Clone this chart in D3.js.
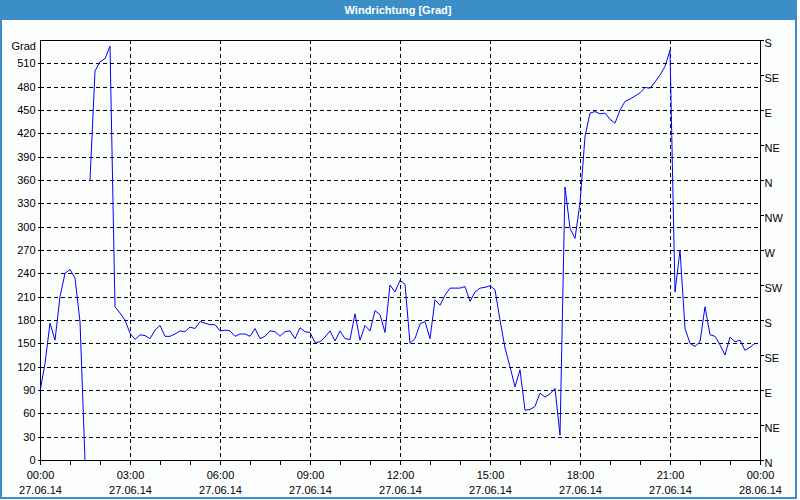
<!DOCTYPE html>
<html><head><meta charset="utf-8">
<script src="https://cdn.jsdelivr.net/npm/d3@7"></script>
<style>
html,body{margin:0;padding:0;background:#fff;}
svg{display:block;}
text{font-family:"Liberation Sans",Arial,sans-serif;font-size:11px;fill:#000;}
</style></head>
<body>
<svg id="chart" width="800" height="500"></svg>
<script>
// ---- data (10-minute samples from 27.06.14 00:00) ----
const title = "Windrichtung [Grad]";
const yUnit = "Grad";
const direction = [
 88,124,176,154,210,240,245,234,178,0,
 360,500,512,516,532,197,189,180,163,155,
 161,160,156,167,173,159,159,162,166,165,
 171,169,178,176,174,174,166,167,166,159,
 162,162,159,169,156,159,166,165,159,165,
 166,156,170,165,164,151,152,158,166,153,
 166,156,155,188,154,173,166,192,187,164,
 225,216,231,226,150,156,175,178,156,206,
 199,212,221,221,221,223,204,216,221,222,
 224,219,180,144,120,94,116,64,65,69,
 86,81,85,92,32,351,298,285,330,416,
 446,448,445,446,438,433,450,461,464,468,
 472,479,478,486,495,506,527,216,270,169,
 150,146,152,197,161,159,148,135,158,152,
 154,141,145,150
];
const segmentStarts = [0, 10];           // line is broken where wrap-around occurs
const sampleMinutes = 10;
const startTime = new Date(2014, 5, 27, 0, 0);
const endTime = new Date(2014, 5, 28, 0, 0);
const yTicks = [0,30,60,90,120,150,180,210,240,270,300,330,360,390,420,450,480,510];
const compassValues = [0,45,90,135,180,225,270,315,360,405,450,495,540];
const compassLabels = ["N","NE","E","SE","S","SW","W","NW","N","NE","E","SE","S"];
const timeLabels = ["00:00","03:00","06:00","09:00","12:00","15:00","18:00","21:00","00:00"];
const dateLabels = ["27.06.14","27.06.14","27.06.14","27.06.14","27.06.14","27.06.14","27.06.14","27.06.14","28.06.14"];

// ---- layout ----
const L = 40, R = 760, T = 40, B = 460;
const svg = d3.select("#chart");

svg.append("rect").attr("x",0).attr("y",0).attr("width",797).attr("height",499).attr("fill","#fcfdfd");
svg.append("rect").attr("x",1).attr("y",1).attr("width",795).attr("height",497)
   .attr("fill","none").attr("stroke","#3c8fc6").attr("stroke-width",2);
svg.append("rect").attr("x",0).attr("y",0).attr("width",797).attr("height",20).attr("fill","#3c8fc6");
svg.append("text").attr("x",398).attr("y",14).attr("text-anchor","middle")
   .style("font-weight","bold").style("fill","#fff").text(title);

const x = d3.scaleTime().domain([startTime, endTime]).range([L, R]);
const y = d3.scaleLinear().domain([0, 540]).range([B, T]);

const majorTicks = d3.timeHour.every(3).range(startTime, new Date(endTime.getTime()+1));
const minorTicks = d3.timeHour.every(1).range(startTime, new Date(endTime.getTime()+1));

// grid
const grid = svg.append("g").attr("shape-rendering","crispEdges")
   .attr("stroke","#000").attr("stroke-dasharray","4,3");
grid.selectAll("line.h").data(yTicks.filter(v=>v>0)).join("line")
   .attr("x1",L).attr("x2",R).attr("y1",d=>Math.round(y(d))+0.5).attr("y2",d=>Math.round(y(d))+0.5);
grid.selectAll("line.v").data(majorTicks.slice(1,-1)).join("line")
   .attr("y1",T).attr("y2",B).attr("x1",d=>Math.round(x(d))+0.5).attr("x2",d=>Math.round(x(d))+0.5);

// frame lines (top / left / right / bottom)
const frame = svg.append("g").attr("shape-rendering","crispEdges").attr("stroke","#000");
frame.append("line").attr("x1",L).attr("x2",R+1).attr("y1",T+0.5).attr("y2",T+0.5);

// left axis
const yAxis = d3.axisLeft(y).tickValues(yTicks).tickSize(3).tickPadding(2).tickFormat(d3.format("d"));
const gy = svg.append("g").attr("transform",`translate(${L+0.5},0)`).call(yAxis);
gy.select(".domain").attr("d",`M0,${T}V${B+1}`);
svg.append("text").attr("x",L-4).attr("y",y(540)+6).attr("dy","0.32em")
   .attr("text-anchor","end").text(yUnit);

// right axis (compass)
const yAxisR = d3.axisRight(y).tickValues(compassValues).tickSize(3).tickPadding(1)
   .tickFormat((d,i)=>compassLabels[i]);
const gr = svg.append("g").attr("transform",`translate(${R+0.5},0)`).call(yAxisR);
gr.select(".domain").attr("d",`M0,${T}V${B+1}`);
gr.selectAll(".tick text").attr("dy","0.55em");

// bottom axis
const gxMinor = svg.append("g").attr("transform",`translate(0,${B+0.5})`)
   .call(d3.axisBottom(x).tickValues(minorTicks).tickSize(4).tickFormat(""));
gxMinor.select(".domain").attr("d",`M${L},0H${R+1}`);
const gx = svg.append("g").attr("transform",`translate(0,${B+0.5})`)
   .call(d3.axisBottom(x).tickValues(majorTicks).tickSize(4).tickFormat(""));
gx.select(".domain").remove();
gx.selectAll(".tick").each(function(d,i){
  const g = d3.select(this);
  g.append("text").attr("y",18).attr("text-anchor","middle").text(timeLabels[i]);
  g.append("text").attr("y",33).attr("text-anchor","middle").text(dateLabels[i]);
});
svg.selectAll(".tick line, .domain").attr("stroke","#000").attr("shape-rendering","crispEdges");
svg.selectAll(".tick text").style("font-family",'"Liberation Sans",Arial,sans-serif').style("font-size","11px").attr("fill","#000");

// data line, split into segments
const pts = direction.map((v,i)=>({t:new Date(startTime.getTime()+i*sampleMinutes*60000), v}));
const segs = segmentStarts.map((s,k)=>pts.slice(s, k+1<segmentStarts.length ? segmentStarts[k+1] : pts.length));
const line = d3.line().x(d=>x(d.t)).y(d=>y(d.v));
svg.append("g").selectAll("path").data(segs).join("path")
   .attr("d",line).attr("fill","none").attr("stroke","#0000ff").attr("stroke-width",1);
</script>
</body></html>
